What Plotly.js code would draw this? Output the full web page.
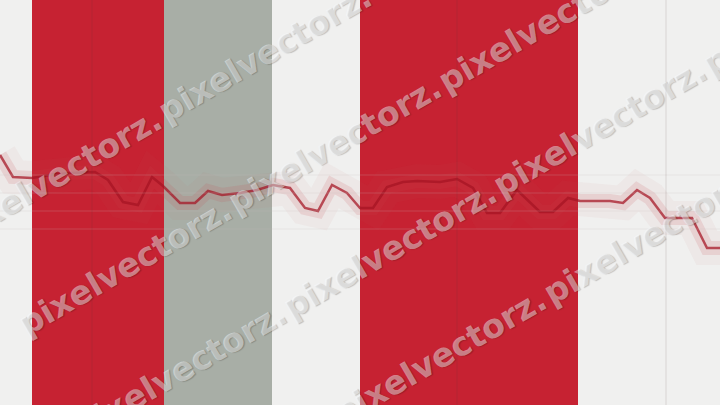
<!DOCTYPE html>
<html>
<head>
<meta charset="utf-8">
<script src="https://cdn.plot.ly/plotly-3.0.1.min.js"></script>
<style>
  html, body { margin: 0; padding: 0; background: #f0f0ef; }
  #chart { width: 720px; height: 405px; }
</style>
</head>
<body>
<div id="chart"></div>
<script>
// Vertical bands (start, end on the x scale) and their colours
const bandStart = [32, 164, 360];
const bandEnd   = [164, 272, 578];
const bandColor = ['#c62232', '#a8aea6', '#c62232'];
const bandTop   = [405, 405, 405];

// Line series (x position, value)
const lineX = [0, 13, 32, 50, 70, 95, 108, 123, 138, 152, 163, 180, 195, 208, 222, 240, 257, 273, 290, 305, 318, 332, 347, 360, 373, 387, 403, 417, 440, 457, 473, 487, 500, 517, 540, 553, 568, 580, 610, 623, 637, 650, 665, 680, 692, 707, 720];
const lineY = [250, 228, 227, 230, 232, 233, 225, 203, 200, 228, 219, 202, 202, 214, 210, 212, 215, 220, 217, 197, 194, 220, 212, 197, 197, 218, 223, 224, 223, 226, 217, 192, 192, 215, 193, 193, 207, 204, 204, 202, 215, 207, 187, 187, 187, 157, 157];

// Gridline positions
const hGrid = [176, 194, 212, 230];
const vGrid = [92, 457, 666];

// Watermark words: centre x, centre y (fractions of the picture)
const wmText = ['pixelvectorz.', 'pixelvectorz.', 'pixelvectorz.', 'pixelvectorz.', 'pixelvectorz.', 'pixelvectorz.', 'pixelvectorz.', 'pixelvectorz.', 'pixelvectorz.', 'pixelvectorz.', 'pixelvectorz.'];
const wmX = [0.076, 0.368, 0.174, 0.465, 0.757, 0.250, 0.542, 0.833, 1.125, 0.611, 0.903];
const wmY = [0.565, 0.867, 0.343, 0.642, 0.941, 0.084, 0.384, 0.684, 0.983, 0.119, 0.419];

const barTrace = {
  type: 'bar',
  x: bandStart.map((s, i) => (s + bandEnd[i]) / 2),
  width: bandStart.map((s, i) => bandEnd[i] - s),
  y: bandTop,
  base: 0,
  marker: { color: bandColor, line: { width: 0 } },
  hoverinfo: 'skip',
  showlegend: false
};

const wideGlow = {
  type: 'scatter', mode: 'lines',
  x: lineX, y: lineY,
  line: { color: 'rgba(200,90,100,0.05)', width: 34 },
  hoverinfo: 'skip', showlegend: false
};

const glowTrace = {
  type: 'scatter', mode: 'lines',
  x: lineX, y: lineY,
  line: { color: 'rgba(200,70,80,0.14)', width: 14 },
  hoverinfo: 'skip', showlegend: false
};

const lineTrace = {
  type: 'scatter', mode: 'lines',
  x: lineX, y: lineY,
  line: { color: 'rgba(165,20,35,0.72)', width: 2.5 },
  hoverinfo: 'skip', showlegend: false
};

const shapes = [];
hGrid.forEach(v => shapes.push({
  type: 'line', xref: 'paper', yref: 'y', x0: 0, x1: 1, y0: v, y1: v,
  line: { color: 'rgba(200,190,190,0.22)', width: 1 }, layer: 'above'
}));
vGrid.forEach(v => shapes.push({
  type: 'line', xref: 'x', yref: 'paper', x0: v, x1: v, y0: 0, y1: 1,
  line: { color: 'rgba(90,60,60,0.15)', width: 1 }, layer: 'above'
}));

const annotations = wmText.map((t, i) => ({
  text: t, x: wmX[i], y: wmY[i], xref: 'paper', yref: 'paper',
  xanchor: 'center', yanchor: 'middle',
  showarrow: false, textangle: -30,
  font: { family: 'DejaVu Sans', size: 33, weight: 'bold', color: 'rgba(255,255,255,0.45)',
          shadow: '1px 1px 1px rgba(0,0,0,0.45)' }
}));

const layout = {
  width: 720, height: 405,
  margin: { l: 0, r: 0, t: 0, b: 0, pad: 0 },
  paper_bgcolor: '#f0f0ef', plot_bgcolor: '#f0f0ef',
  xaxis: { range: [0, 720], showgrid: false, zeroline: false, showticklabels: false, ticks: '', showline: false, fixedrange: true },
  yaxis: { range: [0, 405], showgrid: false, zeroline: false, showticklabels: false, ticks: '', showline: false, fixedrange: true },
  bargap: 0,
  shapes: shapes,
  annotations: annotations,
  showlegend: false
};

Plotly.newPlot('chart', [barTrace, wideGlow, glowTrace, lineTrace], layout, { displayModeBar: false, staticPlot: true });
</script>
</body>
</html>
